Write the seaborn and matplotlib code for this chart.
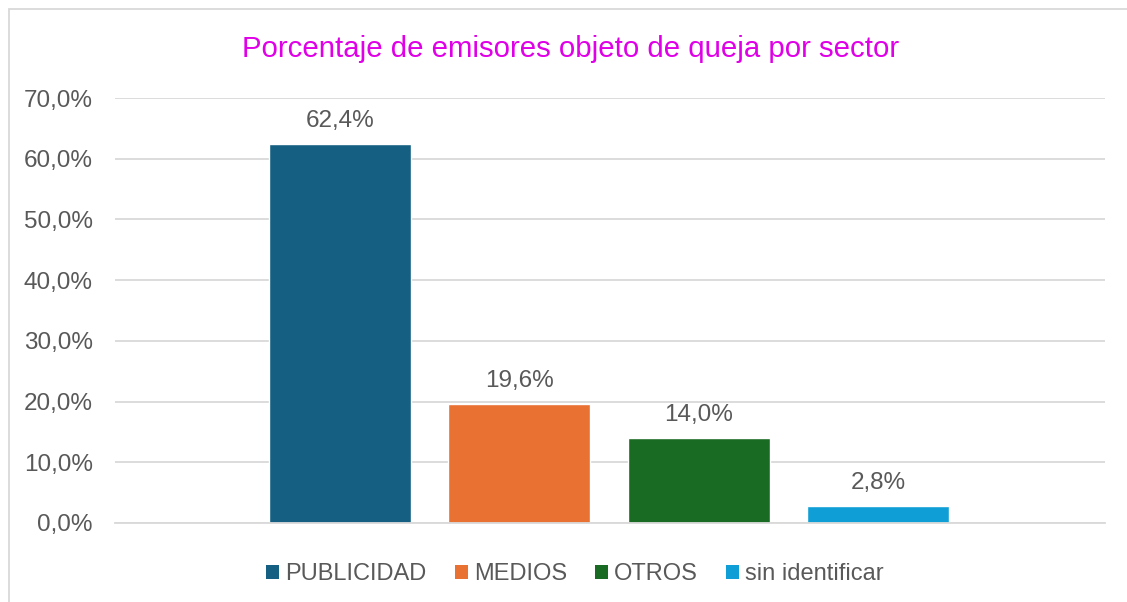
import matplotlib
matplotlib.use("Agg")
import matplotlib.pyplot as plt
import seaborn as sns
import pandas as pd
from matplotlib.patches import Patch
from matplotlib.ticker import FuncFormatter

categories = ["PUBLICIDAD", "MEDIOS", "OTROS", "sin identificar"]
values = [62.4, 19.6, 14.0, 2.8]
colors = ["#156082", "#E97132", "#196B24", "#0F9ED5"]
title = "Porcentaje de emisores objeto de queja por sector"

sns.set_theme(style="white")
plt.rcParams["font.family"] = ["Liberation Sans", "DejaVu Sans"]
text_color = "#595959"

df = pd.DataFrame({"sector": categories, "pct": values})

fig = plt.figure(figsize=(11.27, 6.02), dpi=100)
ax = fig.add_axes([115 / 1127, 1 - 523 / 602, 990 / 1127, (523 - 98) / 602])

sns.barplot(data=df, x="sector", y="pct", hue="sector", order=categories,
            hue_order=categories, palette=colors, width=0.792, dodge=False,
            legend=False, ax=ax, saturation=1)

ax.set_xlim(-1.255, 4.267)
ax.set_ylim(0, 70)
ax.set_yticks(range(0, 71, 10))
ax.yaxis.set_major_formatter(FuncFormatter(lambda v, p: f"{v:.1f}%".replace(".", ",")))
ax.grid(axis="y", color="#D9D9D9", linewidth=1.3)
ax.set_axisbelow(True)
for s in ["top", "right", "left"]:
    ax.spines[s].set_visible(False)
ax.spines["bottom"].set_color("#D9D9D9")
ax.spines["bottom"].set_linewidth(1.3)
ax.set_xticks([])
ax.set_xlabel("")
ax.set_ylabel("")
ax.tick_params(axis="y", length=0, labelsize=17.5, labelcolor=text_color, pad=16)

for i, v in enumerate(values):
    ax.annotate(f"{v:.1f}%".replace(".", ","), xy=(i, v), xytext=(0, 9),
                textcoords="offset points", ha="center", va="bottom",
                fontsize=17.5, color=text_color)

fig.text(571 / 1127, 1 - 49 / 602, title, ha="center", va="center",
         fontsize=21.2, color="#E000E8")

handles = [Patch(facecolor=c, edgecolor="none") for c in colors]
fig.legend(handles, categories, loc="center", bbox_to_anchor=(575 / 1127, 1 - 574 / 602),
           ncol=4, frameon=False, fontsize=17, labelcolor=text_color,
           handlelength=0.55, handleheight=0.55, handletextpad=0.25, columnspacing=1.2)

# chart frame (partially visible)
fig.add_artist(plt.Line2D([9 / 1127, 9 / 1127], [0, 1 - 9 / 602], color="#D9D9D9", lw=1.3))
fig.add_artist(plt.Line2D([9 / 1127, 1], [1 - 9 / 602, 1 - 9 / 602], color="#D9D9D9", lw=1.3))

fig.savefig("out.png", dpi=100)
